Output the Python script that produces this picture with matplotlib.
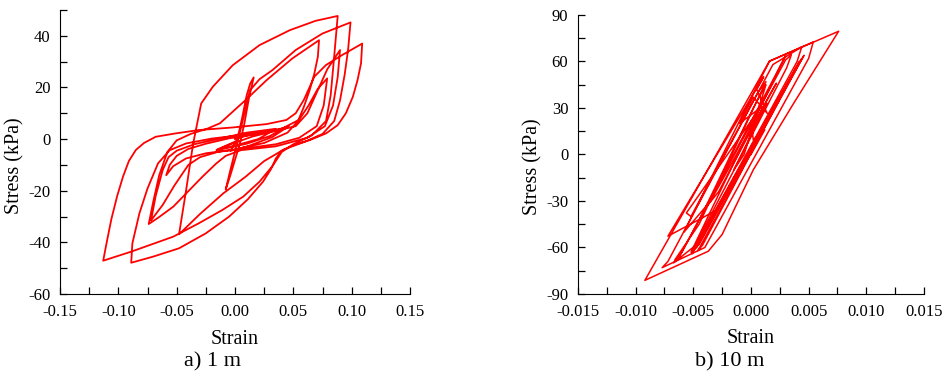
import matplotlib
matplotlib.use("Agg")
import matplotlib.pyplot as plt
import numpy as np
from matplotlib.ticker import MultipleLocator, FormatStrFormatter

# strain / stress (kPa) history, 1 m depth
loops_1m = [
    # small cycles around origin
    (0.000, 0.0), (0.015, 2.0), (0.030, 3.0), (0.042, 4.3), (0.030, 1.2),
    (0.010, -1.8), (-0.008, -3.6), (-0.016, -4.3), (-0.005, -2.2), (0.015, 1.0),
    (0.035, 3.2), (0.046, 5.0), (0.032, 0.8), (0.012, -2.6), (-0.004, -4.6),
    # small steep loop
    (0.002, 0.0), (0.006, 8.0), (0.010, 17.0), (0.013, 21.5), (0.016, 23.9),
    (0.012, 16.0), (0.008, 6.0), (0.004, -2.0), (0.000, -8.0), (-0.004, -14.0),
    (-0.008, -19.5),
    (-0.004, -12.0), (0.001, -3.0), (0.006, 6.0), (0.010, 14.0), (0.013, 19.0),
    (0.021, 23.2), (0.032, 26.7), (0.052, 34.5), (0.075, 40.9), (0.099, 45.2),
    (0.097, 35.0), (0.094, 25.0), (0.090, 15.0), (0.085, 7.0), (0.075, 2.0),
    (0.060, -1.0), (0.042, -4.0), (0.025, -8.5), (0.009, -14.6), (-0.010, -21.0),
    (-0.030, -29.0), (-0.048, -36.9),
    (-0.042, -20.0), (-0.036, -2.0), (-0.029, 13.8), (-0.019, 20.3), (-0.002, 28.6),
    (0.021, 36.4), (0.047, 42.2), (0.069, 45.8), (0.088, 47.7),
    (0.085, 32.0), (0.082, 17.0), (0.078, 7.0), (0.066, 1.5), (0.050, -2.0),
    (0.040, -5.0), (0.032, -10.5), (0.021, -16.5), (0.007, -22.3), (-0.011, -27.5),
    (-0.031, -32.6), (-0.053, -37.8), (-0.089, -43.6), (-0.113, -47.1),
    (-0.110, -40.0), (-0.106, -31.0), (-0.101, -22.0), (-0.096, -14.5), (-0.091, -8.5),
    (-0.085, -4.2), (-0.078, -1.5), (-0.068, 0.9), (-0.051, 2.2), (-0.031, 3.5),
    (-0.002, 4.5), (0.027, 5.8), (0.044, 7.4), (0.052, 10.0), (0.059, 15.2),
    (0.068, 24.2), (0.078, 28.7), (0.092, 32.6), (0.109, 37.0),
    (0.108, 29.3), (0.105, 22.8), (0.101, 16.4), (0.095, 10.0), (0.088, 5.4),
    (0.078, 2.2), (0.064, -0.4), (0.050, -2.3), (0.040, -4.5), (0.035, -7.5),
    (0.031, -11.5), (0.024, -16.5), (0.011, -23.3), (-0.005, -30.0), (-0.025, -36.5),
    (-0.048, -42.3), (-0.070, -45.5), (-0.089, -47.9),
    (-0.088, -40.4), (-0.082, -28.8), (-0.075, -19.1), (-0.066, -9.4), (-0.056, -4.3),
    (-0.042, -1.7), (-0.020, 0.2), (0.010, 1.8), (0.035, 3.2), (0.052, 5.0),
    (0.062, 10.0), (0.070, 18.0), (0.079, 27.0), (0.090, 34.5),
    (0.088, 24.0), (0.084, 13.0), (0.077, 5.0), (0.062, 0.5), (0.035, -2.8),
    (0.005, -4.3), (-0.008, -6.5), (-0.016, -9.4), (-0.028, -14.6), (-0.039, -19.7),
    (-0.053, -26.2), (-0.066, -30.5), (-0.074, -32.9),
    (-0.070, -24.0), (-0.065, -14.0), (-0.058, -5.0), (-0.050, -0.5), (-0.038, 2.0),
    (-0.024, 4.0), (-0.013, 6.1), (0.009, 15.1), (0.027, 22.8), (0.049, 31.2),
    (0.072, 38.3),
    (0.071, 31.9), (0.068, 25.4), (0.064, 19.0), (0.059, 12.5), (0.054, 7.0),
    (0.045, 2.5), (0.025, -1.5), (0.000, -4.0), (-0.025, -5.5), (-0.042, -7.5),
    (-0.053, -10.5), (-0.059, -14.0),
    (-0.056, -10.0), (-0.050, -6.5), (-0.040, -3.8), (-0.025, -1.8), (-0.005, 0.3),
    (0.020, 2.0), (0.040, 4.0), (0.055, 7.5), (0.063, 13.0), (0.071, 19.5),
    (0.079, 23.5),
    (0.076, 13.0), (0.070, 5.0), (0.055, 0.5), (0.035, -2.0), (0.010, -3.5),
    (-0.015, -5.0), (-0.030, -7.0), (-0.040, -10.0), (-0.052, -18.0), (-0.062, -25.5),
    (-0.072, -31.5),
    (-0.068, -22.0), (-0.062, -12.0), (-0.057, -7.0), (-0.050, -4.5), (-0.035, -2.0),
    (-0.015, 0.0), (0.010, 2.5), (0.035, 4.0), (0.020, 0.0), (0.000, -2.5),
    (-0.015, -4.0), (0.000, -1.0),
]

# 10 m depth
loops_10m = [
    (0.0000, 0.0), (0.0012, 16.0), (0.0002, 9.4), (0.0001, 15.9), (0.0014, 33.0),
    (0.0005, 20.0), (-0.0015, -10.0), (-0.0006, 0.0), (0.0013, 45.0), (0.0002, 30.0),
    (-0.0040, -35.0), (-0.0028, -24.0), (0.0016, 38.0), (0.0022, 46.0), (-0.0035, -30.0),
    (-0.0058, -50.0), (0.0016, 60.2), (0.0076, 79.5),
    (0.0037, 33.0), (0.0002, -9.9), (-0.0025, -51.6), (-0.0037, -62.4), (-0.0092, -81.2),
    (0.0016, 60.2), (0.0054, 72.6), (0.0050, 62.0), (-0.0040, -60.0), (-0.0077, -73.0),
    (-0.0072, -69.0), (0.0019, 58.0), (0.0044, 69.4), (0.0040, 60.0), (-0.0047, -58.0),
    (-0.0067, -69.9), (-0.0060, -63.0), (0.0030, 61.0), (0.0035, 64.3), (0.0031, 56.0),
    (-0.0050, -61.0), (-0.0051, -64.0), (0.0044, 61.9), (0.0041, 58.0), (-0.0049, -60.0),
    (-0.0045, -58.0), (0.0042, 60.0), (0.0036, 52.0), (-0.0030, -36.0), (-0.0072, -52.7),
    (0.0011, 50.1), (0.0005, 42.0), (0.0014, 26.6), (0.0002, 37.0), (-0.0010, 20.0),
    (0.0008, 30.0), (-0.0056, -37.7), (-0.0052, -40.0), (0.0006, 40.0), (0.0013, 47.0),
    (-0.0045, -45.0), (-0.0066, -68.0), (-0.0062, -66.0), (0.0030, 63.5), (0.0026, 58.0),
    (-0.0052, -63.0), (-0.0047, -60.0), (0.0046, 64.0), (0.0043, 60.0), (-0.0046, -62.0),
    (-0.0042, -58.5), (0.0040, 57.0), (0.0000, 5.0),
]

plt.rcParams["font.family"] = ["Liberation Serif", "DejaVu Serif"]
plt.rcParams["axes.unicode_minus"] = False

fig = plt.figure(figsize=(9.5, 3.72), dpi=100)
ax1 = fig.add_axes([0.0632, 0.2097, 0.3684, 0.7634])
ax2 = fig.add_axes([0.6084, 0.2097, 0.3642, 0.7500])

red = "#ff0000"
pts = np.array(loops_1m)
ax1.plot(pts[:, 0], pts[:, 1], color=red, lw=1.3, solid_joinstyle="round")
pts = np.array(loops_10m)
ax2.plot(pts[:, 0], pts[:, 1], color=red, lw=1.1, solid_joinstyle="round")

ax1.set_xlim(-0.15, 0.15)
ax1.set_ylim(-60, 50)
ax1.xaxis.set_major_locator(MultipleLocator(0.05))
ax1.xaxis.set_minor_locator(MultipleLocator(0.025))
ax1.yaxis.set_major_locator(MultipleLocator(20))
ax1.yaxis.set_minor_locator(MultipleLocator(10))
ax1.xaxis.set_major_formatter(FormatStrFormatter("%.2f"))

ax2.set_xlim(-0.015, 0.015)
ax2.set_ylim(-90, 90)
ax2.xaxis.set_major_locator(MultipleLocator(0.005))
ax2.xaxis.set_minor_locator(MultipleLocator(0.0025))
ax2.yaxis.set_major_locator(MultipleLocator(30))
ax2.yaxis.set_minor_locator(MultipleLocator(15))
ax2.xaxis.set_major_formatter(FormatStrFormatter("%.3f"))

for ax, ylab_y in ((ax1, 0.451), (ax2, 0.455)):
    ax.spines["top"].set_visible(False)
    ax.spines["right"].set_visible(False)
    ax.tick_params(which="both", direction="in", length=5, width=0.9,
                   labelsize=12, pad=7)
    ax.set_xlabel("Strain", fontsize=14.5)
    ax.set_ylabel("Stress (kPa)", fontsize=14.5)
    ax.xaxis.set_label_coords(0.5, -0.16)
    ax.xaxis.label.set_va("center")
    ax.yaxis.set_label_coords(-0.129, ylab_y)
    ax.yaxis.label.set_va("center")

fig.text(213 / 950, 1 - 362 / 372, "a) 1 m", ha="center", va="center", fontsize=16)
fig.text(730 / 950, 1 - 362 / 372, "b) 10 m", ha="center", va="center", fontsize=16)

fig.savefig("out.png", dpi=100)
